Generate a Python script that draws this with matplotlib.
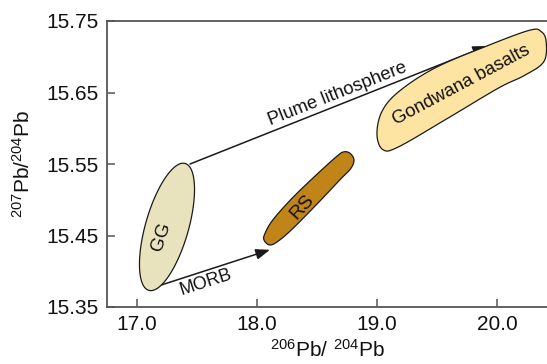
"""Pb isotope diagram: GG, RS and Gondwana basalt fields with MORB / plume lithosphere arrows."""
import matplotlib

matplotlib.use("Agg")
import matplotlib.pyplot as plt  # noqa: E402
import numpy as np  # noqa: E402
from matplotlib.patches import FancyArrowPatch, Polygon  # noqa: E402

plt.rcParams["font.family"] = ["Liberation Sans", "DejaVu Sans"]
plt.rcParams["mathtext.fontset"] = "custom"
plt.rcParams["mathtext.rm"] = "Liberation Sans"

# axis setup
x_ticks = [17.0, 18.0, 19.0, 20.0]
y_ticks = [15.35, 15.45, 15.55, 15.65, 15.75]
x_lim = (16.75, 20.417)
y_lim = (15.35, 15.75)

# GG field: ellipse centre (data), semi-axes (px on the page), tilt (deg)
gg_center = (17.25, 15.462)
gg_semi = (66, 21.5)
gg_angle = 74

# RS field outline (data)
rs_x = [18.667, 18.483, 18.292, 18.133, 18.067, 18.058, 18.100, 18.158, 18.275, 18.483, 18.692,
        18.783, 18.808, 18.775, 18.725]
rs_y = [15.561, 15.533, 15.502, 15.472, 15.453, 15.444, 15.437, 15.440, 15.456, 15.491, 15.528,
        15.544, 15.556, 15.565, 15.567]

# Gondwana basalts outline (data)
gb_x = [19.00, 19.05, 19.18, 19.59, 20.01, 20.23, 20.39, 20.41, 20.37, 20.27, 19.90, 19.48,
        19.18, 19.04]
gb_y = [15.591, 15.570, 15.574, 15.614, 15.656, 15.674, 15.693, 15.721, 15.735, 15.737, 15.714,
        15.684, 15.651, 15.623]

# arrows: start / tip in data
morb_arrow = ((17.133, 15.377), (18.108, 15.430))
plume_arrow = ((17.442, 15.550), (19.917, 15.715))

# labels: text, x, y, rotation, size
labels = [
    ("GG", 17.205, 15.448, 72, 13.5),
    ("RS", 18.375, 15.490, 48, 14),
    ("MORB", 17.575, 15.384, 18, 13),
    ("Plume lithosphere", 18.675, 15.648, 21.5, 13.3),
    ("Gondwana basalts", 19.705, 15.660, 28, 13.3),
]


def smooth_closed(xs, ys, n=24):
    """Closed Catmull-Rom curve through the outline points."""
    p = np.column_stack([xs, ys])
    m = len(p)
    out = []
    for i in range(m):
        p0, p1, p2, p3 = p[i - 1], p[i], p[(i + 1) % m], p[(i + 2) % m]
        t = np.linspace(0, 1, n, endpoint=False)[:, None]
        out.append(0.5 * ((2 * p1) + (-p0 + p2) * t + (2 * p0 - 5 * p1 + 4 * p2 - p3) * t ** 2
                          + (-p0 + 3 * p1 - 3 * p2 + p3) * t ** 3))
    return np.vstack(out)


fig = plt.figure(figsize=(5.47, 3.64), dpi=100)
ax = fig.add_axes([107 / 547, 57 / 364, 440 / 547, 286 / 364])
ax.set_xlim(*x_lim)
ax.set_ylim(*y_lim)

edge = "#1a1a1a"

# GG ellipse built in display space so the tilt matches the page
cx, cy = ax.transData.transform(gg_center)
t = np.linspace(0, 2 * np.pi, 200)
a, b = gg_semi
th = np.radians(gg_angle)
ex = cx + a * np.cos(t) * np.cos(th) - b * np.sin(t) * np.sin(th)
ey = cy + a * np.cos(t) * np.sin(th) + b * np.sin(t) * np.cos(th)
gg_pts = ax.transData.inverted().transform(np.column_stack([ex, ey]))
ax.add_patch(Polygon(gg_pts, closed=True, facecolor="#e8e3bd", edgecolor=edge, lw=0.9, zorder=4))

ax.add_patch(Polygon(smooth_closed(rs_x, rs_y), closed=True, facecolor="#c08418",
                     edgecolor=edge, lw=0.9, zorder=4))
ax.add_patch(Polygon(smooth_closed(gb_x, gb_y), closed=True, facecolor="#fde4a2",
                     edgecolor=edge, lw=0.9, zorder=4))

for start, tip in (morb_arrow, plume_arrow):
    ax.add_patch(FancyArrowPatch(start, tip, arrowstyle="-|>,head_length=0.85,head_width=0.32",
                                 mutation_scale=10, shrinkA=0, shrinkB=0, color="#1a1a1a",
                                 lw=1.1, zorder=3))

for txt, x, y, rot, size in labels:
    ax.text(x, y, txt, rotation=rot, fontsize=size, ha="center", va="center",
            rotation_mode="anchor", color="#111111", zorder=5)

for side in ("top", "left", "bottom"):
    ax.spines[side].set_color("#555555")
    ax.spines[side].set_linewidth(1.3)
ax.spines["right"].set_visible(False)

ax.set_xticks(x_ticks)
ax.set_xticklabels([f"{v:.1f}" for v in x_ticks])
ax.set_yticks(y_ticks)
ax.set_yticklabels([f"{v:.2f}" for v in y_ticks])
ax.tick_params(direction="in", length=5.5, width=1.1, color="#555555", labelsize=15,
               labelcolor="#111111")
ax.tick_params(axis="y", pad=6)
ax.tick_params(axis="x", pad=6)

ax.set_xlabel(r"$\mathregular{^{206}Pb/\ ^{204}Pb}$", fontsize=15, labelpad=3, color="#111111")
ax.set_ylabel(r"$\mathregular{^{207}Pb/^{204}Pb}$", fontsize=15, labelpad=9, color="#111111")

fig.savefig("out.png", dpi=100)
plt.close(fig)
